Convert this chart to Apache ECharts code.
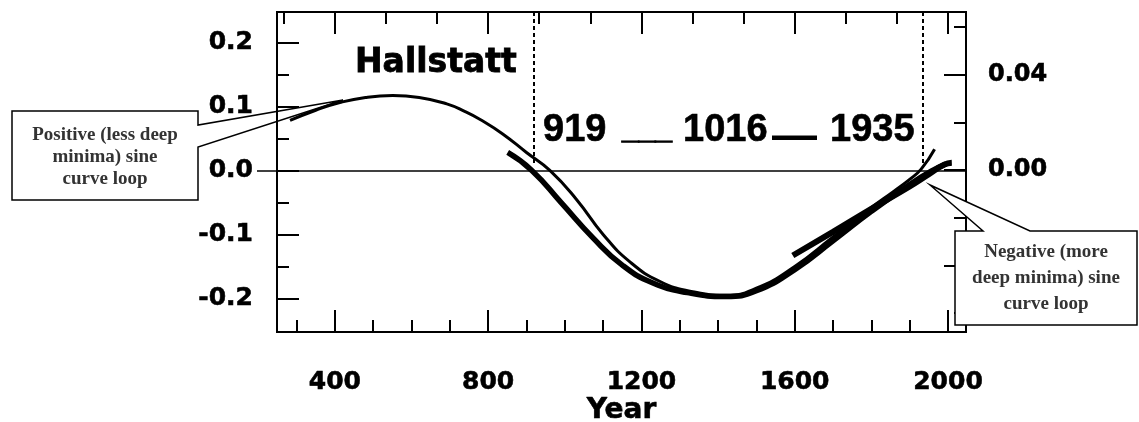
<!DOCTYPE html>
<html>
<head>
<meta charset="utf-8">
<script src="https://cdn.jsdelivr.net/npm/echarts@6/dist/echarts.min.js"></script>
<style>
  html, body { margin: 0; padding: 0; background: #fff; }
  #main { width: 1139px; height: 422px; }
</style>
</head>
<body>
<div id="main"></div>
<script>
// thin curve (positive loop)
var yearsA = [283, 350, 413, 480, 551, 620, 692, 740, 778, 838, 900, 961, 1030, 1100, 1170, 1250, 1330, 1420, 1500, 1600, 1700, 1800, 1860, 1900, 1930, 1965];
var valuesA = [0.078, 0.094, 0.106, 0.114, 0.117, 0.114, 0.104, 0.092, 0.080, 0.057, 0.028, 0.0, -0.045, -0.100, -0.143, -0.174, -0.189, -0.195, -0.184, -0.150, -0.104, -0.058, -0.032, -0.014, 0.002, 0.033];
// thick curve (negative loop)
var yearsB = [851, 914, 990, 1073, 1150, 1230, 1320, 1420, 1500, 1600, 1700, 1800, 1900, 1960, 1995];
var valuesB = [0.028, 0.0, -0.050, -0.105, -0.148, -0.176, -0.191, -0.197, -0.188, -0.155, -0.110, -0.064, -0.022, 0.0, 0.010];
// thick short curve at the right end
var yearsC = [1595, 1700, 1800, 1900, 1950, 1990, 2010];
var valuesC = [-0.133, -0.096, -0.060, -0.025, -0.006, 0.009, 0.012];

// ticks and labels
var xMajorTicks = [400, 800, 1200, 1600, 2000];
var xMinorTicks = [300, 500, 600, 700, 900, 1000, 1100, 1300, 1400, 1500, 1700, 1800, 1900];
var xTopMinorTicks = [267, 533, 667, 933, 1067, 1333, 1467, 1733, 1867];
var yMajorTicks = [-0.2, -0.1, 0, 0.1, 0.2];
var yMinorTicks = [-0.15, -0.05, 0.05, 0.15];
var rightMajorTicks = [-0.04, 0, 0.04];
var rightMinorTicks = [-0.06, -0.02, 0.02, 0.06];
var rightLabels = [0, 0.04];
var markYears = [919, 1935];
var periodText = ['919', '___', '1016', '\u2014', '1935'];

function pairs(xs, ys) {
  return xs.map(function (x, i) { return [x, ys[i]]; });
}

var chart = echarts.init(document.getElementById('main'), null, { renderer: 'canvas' });

var X_MIN = 249, X_MAX = 2047;
var Y_MIN = -0.2525, Y_MAX = 0.2475;
var R_MIN = -0.068, R_MAX = 0.0664;

var labelFont = {
  color: '#000',
  fontFamily: 'DejaVu Sans',
  fontWeight: 'bold',
  fontSize: 25,
  textBorderColor: '#000',
  textBorderWidth: 0.6
};

function tickAxis(extra) {
  var base = {
    type: 'value',
    splitLine: { show: false },
    axisLine: { show: false, onZero: false },
    axisLabel: { show: false },
    axisPointer: { show: false }
  };
  return Object.assign(base, extra);
}

var option = {
  animation: false,
  backgroundColor: '#fff',
  grid: {
    left: 277,
    right: 173,
    top: 12,
    bottom: 90,
    containLabel: false,
    outerBoundsMode: 'none',
    show: true,
    borderColor: '#000',
    borderWidth: 2
  },
  xAxis: [
    tickAxis({
      position: 'bottom', min: X_MIN, max: X_MAX,
      axisTick: { inside: true, length: 22, lineStyle: { color: '#000', width: 2 }, customValues: xMajorTicks },
      axisLabel: Object.assign({
        show: true, margin: 38, customValues: xMajorTicks,
        formatter: function (v) { return String(v); }
      }, labelFont),
      name: 'Year',
      nameLocation: 'middle',
      nameGap: 65,
      nameMoveOverlap: false,
      nameTextStyle: { color: '#000', fontFamily: 'DejaVu Sans', fontWeight: 'bold', fontSize: 28, textBorderColor: '#000', textBorderWidth: 0.6 }
    }),
    tickAxis({
      position: 'bottom', min: X_MIN, max: X_MAX,
      axisTick: { inside: true, length: 12, lineStyle: { color: '#000', width: 2 }, customValues: xMinorTicks }
    }),
    tickAxis({
      position: 'top', min: X_MIN, max: X_MAX,
      axisTick: { inside: true, length: 22, lineStyle: { color: '#000', width: 2 }, customValues: xMajorTicks }
    }),
    tickAxis({
      position: 'top', min: X_MIN, max: X_MAX,
      axisTick: { inside: true, length: 12, lineStyle: { color: '#000', width: 2 }, customValues: xTopMinorTicks }
    })
  ],
  yAxis: [
    tickAxis({
      position: 'left', min: Y_MIN, max: Y_MAX,
      axisTick: { inside: true, length: 22, lineStyle: { color: '#000', width: 2 }, customValues: yMajorTicks },
      axisLabel: Object.assign({
        show: true, margin: 24, customValues: yMajorTicks,
        formatter: function (v) { return v.toFixed(1); }
      }, labelFont)
    }),
    tickAxis({
      position: 'left', min: Y_MIN, max: Y_MAX,
      axisTick: { inside: true, length: 12, lineStyle: { color: '#000', width: 2 }, customValues: yMinorTicks }
    }),
    tickAxis({
      position: 'left', min: Y_MIN, max: Y_MAX,
      axisTick: { inside: false, length: 20, lineStyle: { color: '#000', width: 1.5 }, customValues: [0] }
    }),
    tickAxis({
      position: 'right', min: R_MIN, max: R_MAX,
      axisTick: { inside: true, length: 22, lineStyle: { color: '#000', width: 2 }, customValues: rightMajorTicks },
      axisLabel: Object.assign({
        show: true, margin: 22, customValues: rightLabels,
        formatter: function (v) { return v.toFixed(2); }
      }, labelFont, { fontSize: 24 })
    }),
    tickAxis({
      position: 'right', min: R_MIN, max: R_MAX,
      axisTick: { inside: true, length: 12, lineStyle: { color: '#000', width: 2 }, customValues: rightMinorTicks }
    })
  ],
  series: [
    {
      name: 'positive',
      type: 'line',
      xAxisIndex: 0,
      yAxisIndex: 0,
      smooth: true,
      showSymbol: false,
      lineStyle: { color: '#000', width: 3 },
      data: pairs(yearsA, valuesA),
      markLine: {
        silent: true,
        symbol: ['none', 'none'],
        label: { show: false },
        animation: false,
        data: [
          { yAxis: 0, lineStyle: { color: '#000', width: 1.5, type: 'solid' } },
          [
            { coord: [markYears[0], Y_MAX], lineStyle: { color: '#000', width: 2, type: [4, 3] } },
            { coord: [markYears[0], 0.01] }
          ],
          [
            { coord: [markYears[1], Y_MAX], lineStyle: { color: '#000', width: 2, type: [4, 3] } },
            { coord: [markYears[1], 0.01] }
          ]
        ]
      }
    },
    {
      name: 'negative',
      type: 'line',
      xAxisIndex: 0,
      yAxisIndex: 0,
      smooth: true,
      showSymbol: false,
      lineStyle: { color: '#000', width: 5.5 },
      data: pairs(yearsB, valuesB)
    },
    {
      name: 'negative2',
      type: 'line',
      xAxisIndex: 0,
      yAxisIndex: 0,
      smooth: true,
      showSymbol: false,
      lineStyle: { color: '#000', width: 6 },
      data: pairs(yearsC, valuesC)
    }
  ],
  graphic: [
    {
      type: 'text', x: 355, y: 63, z: 50,
      style: { text: 'Hallstatt', fontFamily: 'DejaVu Sans', fontWeight: 'bold', fontSize: 33, fill: '#000', stroke: '#000', lineWidth: 0.8, align: 'left', verticalAlign: 'middle' }
    },
    {
      type: 'text', x: 543, y: 131, z: 50,
      style: { text: periodText[0], fontFamily: 'Liberation Sans', fontWeight: 'bold', fontSize: 38, fill: '#000', stroke: '#000', lineWidth: 0.6, align: 'left', verticalAlign: 'middle' }
    },
    {
      type: 'text', x: 622, y: 131, z: 50,
      style: { text: periodText[1], fontFamily: 'Liberation Sans', fontWeight: 'bold', fontSize: 30, fill: '#000', stroke: '#000', lineWidth: 1.2, align: 'left', verticalAlign: 'middle' }
    },
    {
      type: 'text', x: 683, y: 131, z: 50,
      style: { text: periodText[2], fontFamily: 'Liberation Sans', fontWeight: 'bold', fontSize: 38, fill: '#000', stroke: '#000', lineWidth: 0.6, align: 'left', verticalAlign: 'middle' }
    },
    {
      type: 'text', x: 772, y: 138, z: 50,
      style: { text: periodText[3], fontFamily: 'Liberation Sans', fontWeight: 'bold', fontSize: 45, fill: '#000', align: 'left', verticalAlign: 'middle' }
    },
    {
      type: 'text', x: 830, y: 131, z: 50,
      style: { text: periodText[4], fontFamily: 'Liberation Sans', fontWeight: 'bold', fontSize: 38, fill: '#000', stroke: '#000', lineWidth: 0.6, align: 'left', verticalAlign: 'middle' }
    },
    {
      type: 'polygon', z: 100,
      shape: { points: [[12, 111], [198, 111], [198, 125], [343, 100], [198, 147], [198, 200], [12, 200]] },
      style: { fill: 'none', stroke: '#000', lineWidth: 1.5 }
    },
    {
      type: 'text', x: 105, y: 157, z: 101,
      style: { text: 'Positive (less deep\nminima) sine\ncurve loop', fontFamily: 'Liberation Serif', fontWeight: 'bold', fontSize: 19, lineHeight: 22, fill: '#333', align: 'center', verticalAlign: 'middle' }
    },
    {
      type: 'polygon', z: 100,
      shape: { points: [[955, 231], [983, 231], [930, 185], [1030, 231], [1137, 231], [1137, 325], [955, 325]] },
      style: { fill: '#fff', stroke: '#000', lineWidth: 1.5 }
    },
    {
      type: 'text', x: 1046, y: 278, z: 101,
      style: { text: 'Negative (more\ndeep minima) sine\ncurve loop', fontFamily: 'Liberation Serif', fontWeight: 'bold', fontSize: 19, lineHeight: 26, fill: '#333', align: 'center', verticalAlign: 'middle' }
    }
  ]
};

chart.setOption(option);
</script>
</body>
</html>
